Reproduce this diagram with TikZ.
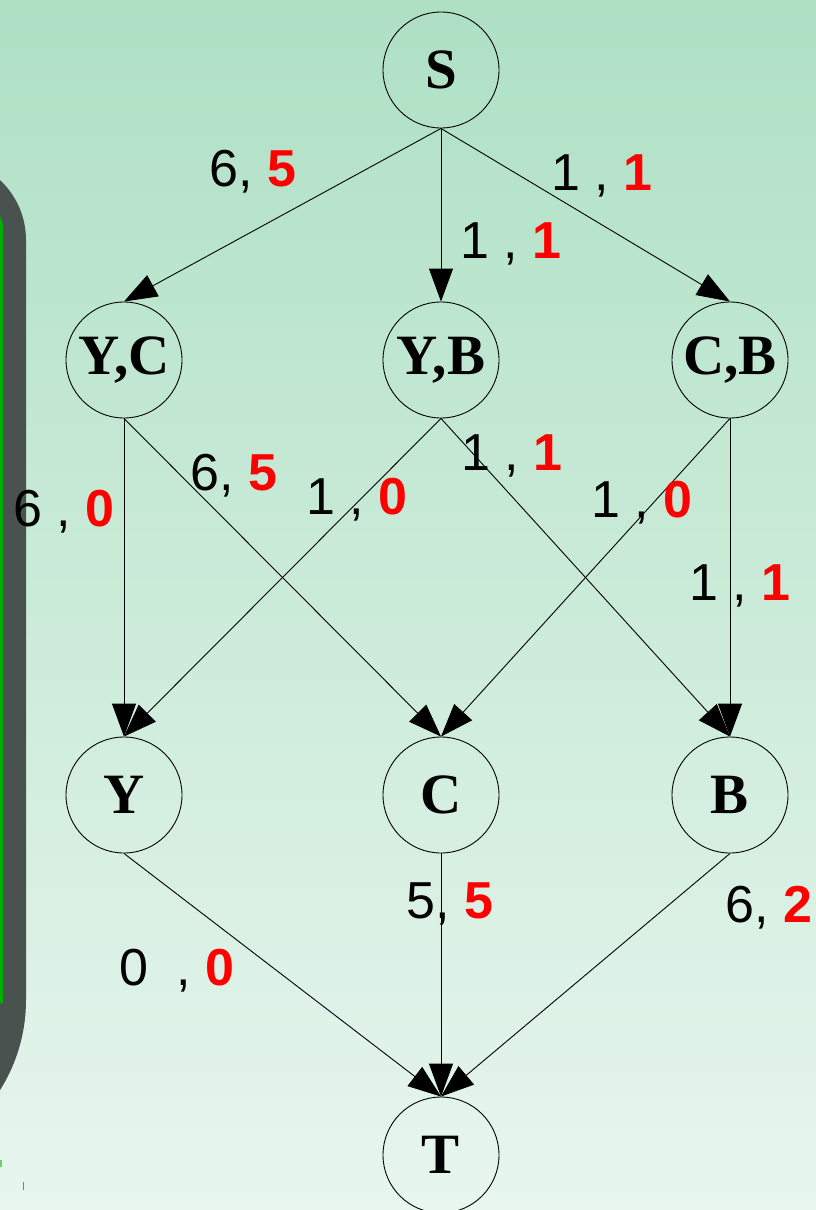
\documentclass[tikz,border=0pt]{standalone}
\usepackage{fontspec}
\setmainfont{Liberation Serif}
\newfontfamily\arialf{Liberation Sans}
\usetikzlibrary{arrows.meta}
\definecolor{bgtop}{RGB}{174,224,196}
\definecolor{bgbot}{RGB}{232,246,238}
\definecolor{panel}{RGB}{74,82,79}
\definecolor{pgreen}{RGB}{0,176,0}
\tikzset{
  vtx/.style={circle, draw=black, line width=0.9pt, minimum size=116pt, inner sep=0pt, font=\bfseries\fontsize{57}{57}\selectfont},
  arr/.style={-{Triangle[length=33pt,width=24pt]}, line width=0.9pt, draw=black},
  lab/.style={anchor=base west, inner sep=0pt, font=\arialf\fontsize{52}{52}\selectfont},
}
\newcommand{\rd}[1]{\textcolor{red}{\bfseries #1}}
\begin{document}
\begin{tikzpicture}[x=1pt,y=1pt]
\useasboundingbox (0,0) rectangle (816,-1210);
\clip (0,0) rectangle (816,-1210);
\shade[top color=bgtop, bottom color=bgbot] (0,0) rectangle (816,-1210);
% left panel
\fill[panel] (-56,-158) arc[start angle=90, end angle=0, radius=82] -- (26,-1000)
  arc[start angle=0, end angle=-90, radius=169] -- (-200,-1169) -- (-200,-158) -- cycle;
\fill[pgreen] (-20,-212) -- (-4,-212) .. controls (0,-214) and (3,-220) .. (3,-228) -- (3,-1003) -- (-20,-1003) -- cycle;
\fill[pgreen!60] (0,-1160) rectangle (2,-1167);
\fill[gray] (22.5,-1182) rectangle (23.5,-1190);
% nodes
\node[vtx] (S) at (441,-70) {S};
\node[vtx] (YC) at (124,-360) {Y,C};
\node[vtx] (YB) at (441,-360) {Y,B};
\node[vtx] (CB) at (730,-360) {C,B};
\node[vtx] (Y) at (124,-795) {Y};
\node[vtx] (C) at (441,-795) {C};
\node[vtx] (B) at (730,-795) {B};
\node[vtx] (T) at (441,-1155) {T};
% edges
\draw[arr] (S.south) -- (YC.north);
\draw[arr] (S.south) -- (YB.north);
\draw[arr] (S.south) -- (CB.north);
\draw[arr] (YC.south) -- (Y.north);
\draw[arr] (YC.south) -- (C.north);
\draw[arr] (YB.south) -- (Y.north);
\draw[arr] (YB.south) -- (B.north);
\draw[arr] (CB.south) -- (C.north);
\draw[arr] (CB.south) -- (B.north);
\draw[arr] (Y.south) -- (T.north);
\draw[arr] (C.south) -- (T.north);
\draw[arr] (B.south) -- (T.north);
% labels
\node[lab] (l1) at (209,-186) {6, \rd{5}};
\node[lab] (l2) at (551,-190) {1 , \rd{1}};
\node[lab] (l3) at (460,-258) {1 , \rd{1}};
\node[lab] (l4) at (190,-490) {6, \rd{5}};
\node[lab] (l5) at (306,-514) {1 , \rd{0}};
\node[lab] (l6) at (13,-526) {6 , \rd{0}};
\node[lab] (l7) at (461,-470) {1 , \rd{1}};
\node[lab] (l8) at (591,-517) {1 , \rd{0}};
\node[lab] (l9) at (689,-600) {1 , \rd{1}};
\node[lab] (l10) at (406,-918) {5, \rd{5}};
\node[lab] (l11) at (725,-922) {6, \rd{2}};
\node[lab] (l12) at (119,-985) {0\hspace{28pt}, \rd{0}};
\end{tikzpicture}
\end{document}
